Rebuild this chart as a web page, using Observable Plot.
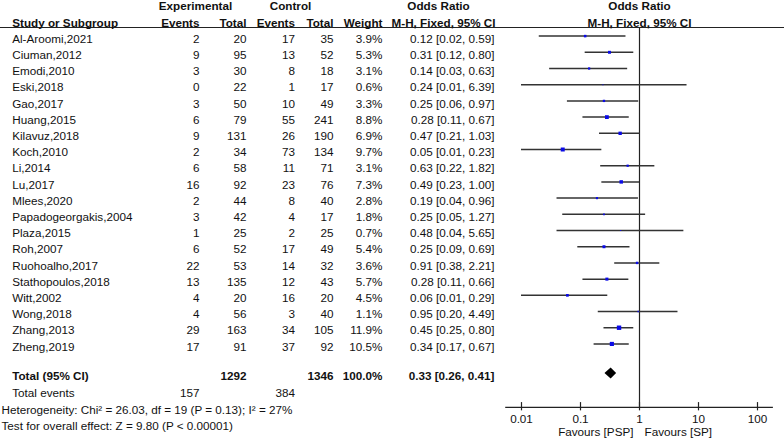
<!DOCTYPE html>
<html>
<head>
<meta charset="utf-8">
<script src="https://cdn.jsdelivr.net/npm/d3@7"></script>
<script src="https://cdn.jsdelivr.net/npm/@observablehq/plot@0.6"></script>
<style>
  html, body { margin: 0; padding: 0; background: #fff; }
  #chart { position: relative; width: 784px; height: 440px; }
  #chart svg { position: absolute; left: 0; top: 0; }
</style>
</head>
<body>
<div id="chart"></div>
<script>
// ---- Data ----
const studies = ["Al-Aroomi,2021","Ciuman,2012","Emodi,2010","Eski,2018","Gao,2017","Huang,2015","Kilavuz,2018","Koch,2010","Li,2014","Lu,2017","Mlees,2020","Papadogeorgakis,2004","Plaza,2015","Roh,2007","Ruohoalho,2017","Stathopoulos,2018","Witt,2002","Wong,2018","Zhang,2013","Zheng,2019"];
const expEvents = [2,9,3,0,3,6,9,2,6,16,2,3,1,6,22,13,4,4,29,17];
const expTotal = [20,95,30,22,50,79,131,34,58,92,44,42,25,52,53,135,20,56,163,91];
const ctrlEvents = [17,13,8,1,10,55,26,73,11,23,8,4,2,17,14,12,16,3,34,37];
const ctrlTotal = [35,52,18,17,49,241,190,134,71,76,40,17,25,49,32,43,20,40,105,92];
const weights = [3.9,5.3,3.1,0.6,3.3,8.8,6.9,9.7,3.1,7.3,2.8,1.8,0.7,5.4,3.6,5.7,4.5,1.1,11.9,10.5];
const oddsRatio = [0.12,0.31,0.14,0.24,0.25,0.28,0.47,0.05,0.63,0.49,0.19,0.25,0.48,0.25,0.91,0.28,0.06,0.95,0.45,0.34];
const ciLow = [0.02,0.12,0.03,0.01,0.06,0.11,0.21,0.01,0.22,0.23,0.04,0.05,0.04,0.09,0.38,0.11,0.01,0.20,0.25,0.17];
const ciHigh = [0.59,0.80,0.63,6.39,0.97,0.67,1.03,0.23,1.82,1.00,0.96,1.27,5.65,0.69,2.21,0.66,0.29,4.49,0.80,0.67];
const totalExp = 1292, totalCtrl = 1346, totalWeight = 100.0;
const totalEventsExp = 157, totalEventsCtrl = 384;
const pooled = {or: 0.33, lo: 0.26, hi: 0.41};
const heterogeneity = "Heterogeneity: Chi\u00b2 = 26.03, df = 19 (P = 0.13); I\u00b2 = 27%";
const overallTest = "Test for overall effect: Z = 9.80 (P < 0.00001)";
const axisTicks = [0.01, 0.1, 1, 10, 100];
const favourLabels = ["Favours [PSP]", "Favours [SP]"];

// ---- Layout ----
const W = 784, H = 440;
const FONT = "'Liberation Sans', Arial, Helvetica, sans-serif";
const FS = 11.7;
const INK = "#111";
const yDomain = [-2.377, 24.78];
const ROW_TOTAL = 20.83, ROW_EVENTS = 21.84, ROW_HET = 22.89, ROW_TEST = 23.92;
const ROW_HEAD1 = -2, ROW_HEAD2 = -1, ROW_LINE = -0.71;
const col = {name: 11.7, ee: 199, et: 246, ce: 294.5, ct: 333, w: 382, or: 494, orHead: 441, forest: 639};

const f2 = d3.format(".2f"), f1 = d3.format(".1f");
const rows = studies.map((s, i) => ({
  i, study: s, ee: expEvents[i], et: expTotal[i], ce: ctrlEvents[i], ct: ctrlTotal[i],
  w: weights[i], or: oddsRatio[i], lo: ciLow[i], hi: ciHigh[i]
}));
const ciText = (o, l, h) => `${f2(o)} [${f2(l)}, ${f2(h)}]`;

const txt = (data, opts) => Plot.text(data, {fontSize: FS, fill: INK, ...opts});

// ---- Table layer ----
const header1 = [
  {t: "Experimental", x: 195, a: "middle"},
  {t: "Control", x: 290, a: "middle"},
  {t: "Odds Ratio", x: 438, a: "middle"},
  {t: "Odds Ratio", x: 639, a: "middle"}
];
const header2 = [
  {t: "Study or Subgroup", x: col.name, a: "start"},
  {t: "Events", x: col.ee, a: "end"},
  {t: "Total", x: col.et, a: "end"},
  {t: "Events", x: col.ce, a: "end"},
  {t: "Total", x: col.ct, a: "end"},
  {t: "Weight", x: col.w, a: "end"},
  {t: "M-H, Fixed, 95% CI", x: 443, a: "middle"},
  {t: "M-H, Fixed, 95% CI", x: col.forest, a: "middle"}
];
const totalRow = [
  {t: "Total (95% CI)", x: col.name, a: "start"},
  {t: String(totalExp), x: col.et, a: "end"},
  {t: String(totalCtrl), x: col.ct, a: "end"},
  {t: f1(totalWeight) + "%", x: col.w, a: "end"},
  {t: ciText(pooled.or, pooled.lo, pooled.hi), x: col.or, a: "end"}
];
const eventsRow = [
  {t: "Total events", x: col.name, a: "start"},
  {t: String(totalEventsExp), x: col.ee, a: "end"},
  {t: String(totalEventsCtrl), x: col.ce, a: "end"}
];

const headerMarks = (data, row, bold) => ["start", "middle", "end"].map(a =>
  txt(data.filter(d => d.a === a), {x: "x", y: () => row, text: "t", textAnchor: a, fontWeight: bold ? "bold" : "normal"}));

const table = Plot.plot({
  width: W, height: H, margin: 0,
  style: {fontFamily: FONT, background: "none", overflow: "visible"},
  x: {type: "linear", domain: [0, W], range: [0, W], axis: null},
  y: {type: "linear", domain: yDomain, range: [0, H], axis: null},
  marks: [
    Plot.ruleY([ROW_LINE], {x1: 0, x2: W, stroke: "#222", strokeWidth: 1.2}),
    ...headerMarks(header1, ROW_HEAD1, true),
    ...headerMarks(header2, ROW_HEAD2, true),
    txt(rows, {x: () => col.name, y: "i", text: "study", textAnchor: "start"}),
    txt(rows, {x: () => col.ee, y: "i", text: "ee", textAnchor: "end"}),
    txt(rows, {x: () => col.et, y: "i", text: "et", textAnchor: "end"}),
    txt(rows, {x: () => col.ce, y: "i", text: "ce", textAnchor: "end"}),
    txt(rows, {x: () => col.ct, y: "i", text: "ct", textAnchor: "end"}),
    txt(rows, {x: () => col.w, y: "i", text: d => f1(d.w) + "%", textAnchor: "end"}),
    txt(rows, {x: () => col.or, y: "i", text: d => ciText(d.or, d.lo, d.hi), textAnchor: "end"}),
    ...headerMarks(totalRow, ROW_TOTAL, true),
    ...headerMarks(eventsRow, ROW_EVENTS, false),
    txt([heterogeneity], {x: () => 1, y: () => ROW_HET, text: d => d, textAnchor: "start"}),
    txt([overallTest], {x: () => 1, y: () => ROW_TEST, text: d => d, textAnchor: "start"})
  ]
});

// ---- Forest layer ----
const SHIFT = -0.18;
const AXIS_ROW = 22.73;
const diamond = [
  {y: ROW_TOTAL + SHIFT - 0.34, x1: pooled.or, x2: pooled.or},
  {y: ROW_TOTAL + SHIFT, x1: pooled.lo, x2: pooled.hi},
  {y: ROW_TOTAL + SHIFT + 0.34, x1: pooled.or, x2: pooled.or}
];
const forest = Plot.plot({
  width: W, height: H, margin: 0,
  style: {fontFamily: FONT, background: "none", overflow: "visible"},
  x: {type: "log", domain: [0.01, 100], range: [521, 757], axis: null},
  y: {type: "linear", domain: yDomain, range: [0, H], axis: null},
  r: {type: "sqrt", domain: [0, 12], range: [0, 2.5]},
  marks: [
    Plot.ruleX([1], {y1: ROW_LINE, y2: AXIS_ROW, stroke: "#222", strokeWidth: 1.2}),
    Plot.ruleY(rows, {y: d => d.i + SHIFT, x1: "lo", x2: "hi", stroke: "#333", strokeWidth: 1.5}),
    Plot.dot(rows, {x: "or", y: d => d.i + SHIFT, r: "w", symbol: "square", fill: "#0a0ae6", stroke: "none"}),
    Plot.areaX(diamond, {y: "y", x1: "x1", x2: "x2", fill: "#000", curve: "linear"}),
    Plot.ruleY([AXIS_ROW], {x1: 0.0054, x2: 186, stroke: "#222", strokeWidth: 1.2}),
    Plot.ruleX(axisTicks, {y1: 22.44, y2: 22.95, stroke: "#222", strokeWidth: 1.2}),
    txt(axisTicks, {x: d => d, y: () => 23.44, text: d => String(d), textAnchor: "middle"}),
    txt([favourLabels[0]], {x: () => 1, y: () => 24.25, dx: -6, text: d => d, textAnchor: "end"}),
    txt([favourLabels[1]], {x: () => 1, y: () => 24.25, dx: 5, text: d => d, textAnchor: "start"})
  ]
});

const chart = document.getElementById("chart");
chart.appendChild(table);
chart.appendChild(forest);
</script>
</body>
</html>
